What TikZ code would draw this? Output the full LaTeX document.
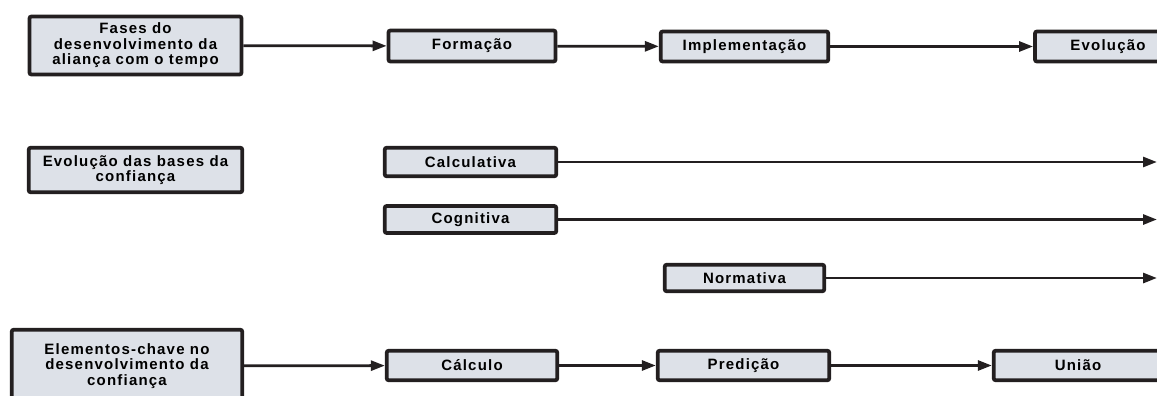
\documentclass[tikz,border=0pt]{standalone}
\usepackage{fontspec}
\setmainfont{Liberation Sans}
\usepackage{tikz}
\usetikzlibrary{arrows.meta,positioning}

\definecolor{caixafill}{RGB}{221,225,232}
\definecolor{caixaline}{RGB}{35,31,32}

\tikzset{
	caixa/.style={draw=caixaline, line width=3.8pt, fill=caixafill, rounded corners=2pt,
		inner sep=0pt, align=center,
		font=\bfseries\fontsize{15}{15.5}\selectfont\addfontfeatures{LetterSpace=8}},
	seta/.style={draw=caixaline, line width=2.8pt, -{Triangle[length=14pt,width=10pt]}}
}

\begin{document}
\begin{tikzpicture}[x=1pt,y=-1pt]
			\useasboundingbox (0,0) rectangle (1157,396);
			% Define nodes
			\node[caixa, minimum width=212pt, minimum height=58pt] (fases) at (135.5,45.5) {Fases do\\desenvolvimento da\\aliança com o tempo}; %
			\node[caixa, minimum width=167pt, minimum height=31pt] (form) at (472,46) {Formação}; %
			\node[caixa, minimum width=167.5pt, minimum height=30pt] (impl) at (744.5,46.5) {Implementação}; %
			\node[caixa, minimum width=146pt, minimum height=30pt] (evol) at (1108,46.5) {Evolução}; %
			\node[caixa, minimum width=213.5pt, minimum height=44.5pt] (bases) at (135.5,170) {Evolução das bases da\\confiança}; %
			\node[caixa, minimum width=171.5pt, minimum height=28.5pt] (calc) at (470.5,162) {Calculativa}; %
			\node[caixa, minimum width=171.5pt, minimum height=27pt] (cogn) at (470.5,219.5) {Cognitiva}; %
			\node[caixa, minimum width=159.5pt, minimum height=26.5pt] (norm) at (744.5,278) {Normativa}; %
			\node[caixa, minimum width=230.5pt, minimum height=72.5pt] (elem) at (127,366) {Elementos-chave no\\desenvolvimento da\\confiança}; %
			\node[caixa, minimum width=170.5pt, minimum height=29.5pt] (calculo) at (472,365.5) {Cálculo}; %
			\node[caixa, minimum width=171.5pt, minimum height=29.5pt] (pred) at (743.5,365.5) {Predição}; %
			\node[caixa, minimum width=168.5pt, minimum height=29.5pt] (uniao) at (1078,365.5) {União}; %
			\coordinate (fim1) at (1157,162);
			\coordinate (fim2) at (1157,219.5);
			\coordinate (fim3) at (1157,278);
			%%add edge
			\draw[seta] (fases) -- (form);
			\draw[seta] (form) -- (impl);
			\draw[seta] (impl) -- (evol);
			\draw[seta] (calc) -- (fim1);
			\draw[seta] (cogn) -- (fim2);
			\draw[seta] (norm) -- (fim3);
			\draw[seta] (elem) -- (calculo);
			\draw[seta] (calculo) -- (pred);
			\draw[seta] (pred) -- (uniao);
\end{tikzpicture}
\end{document}
